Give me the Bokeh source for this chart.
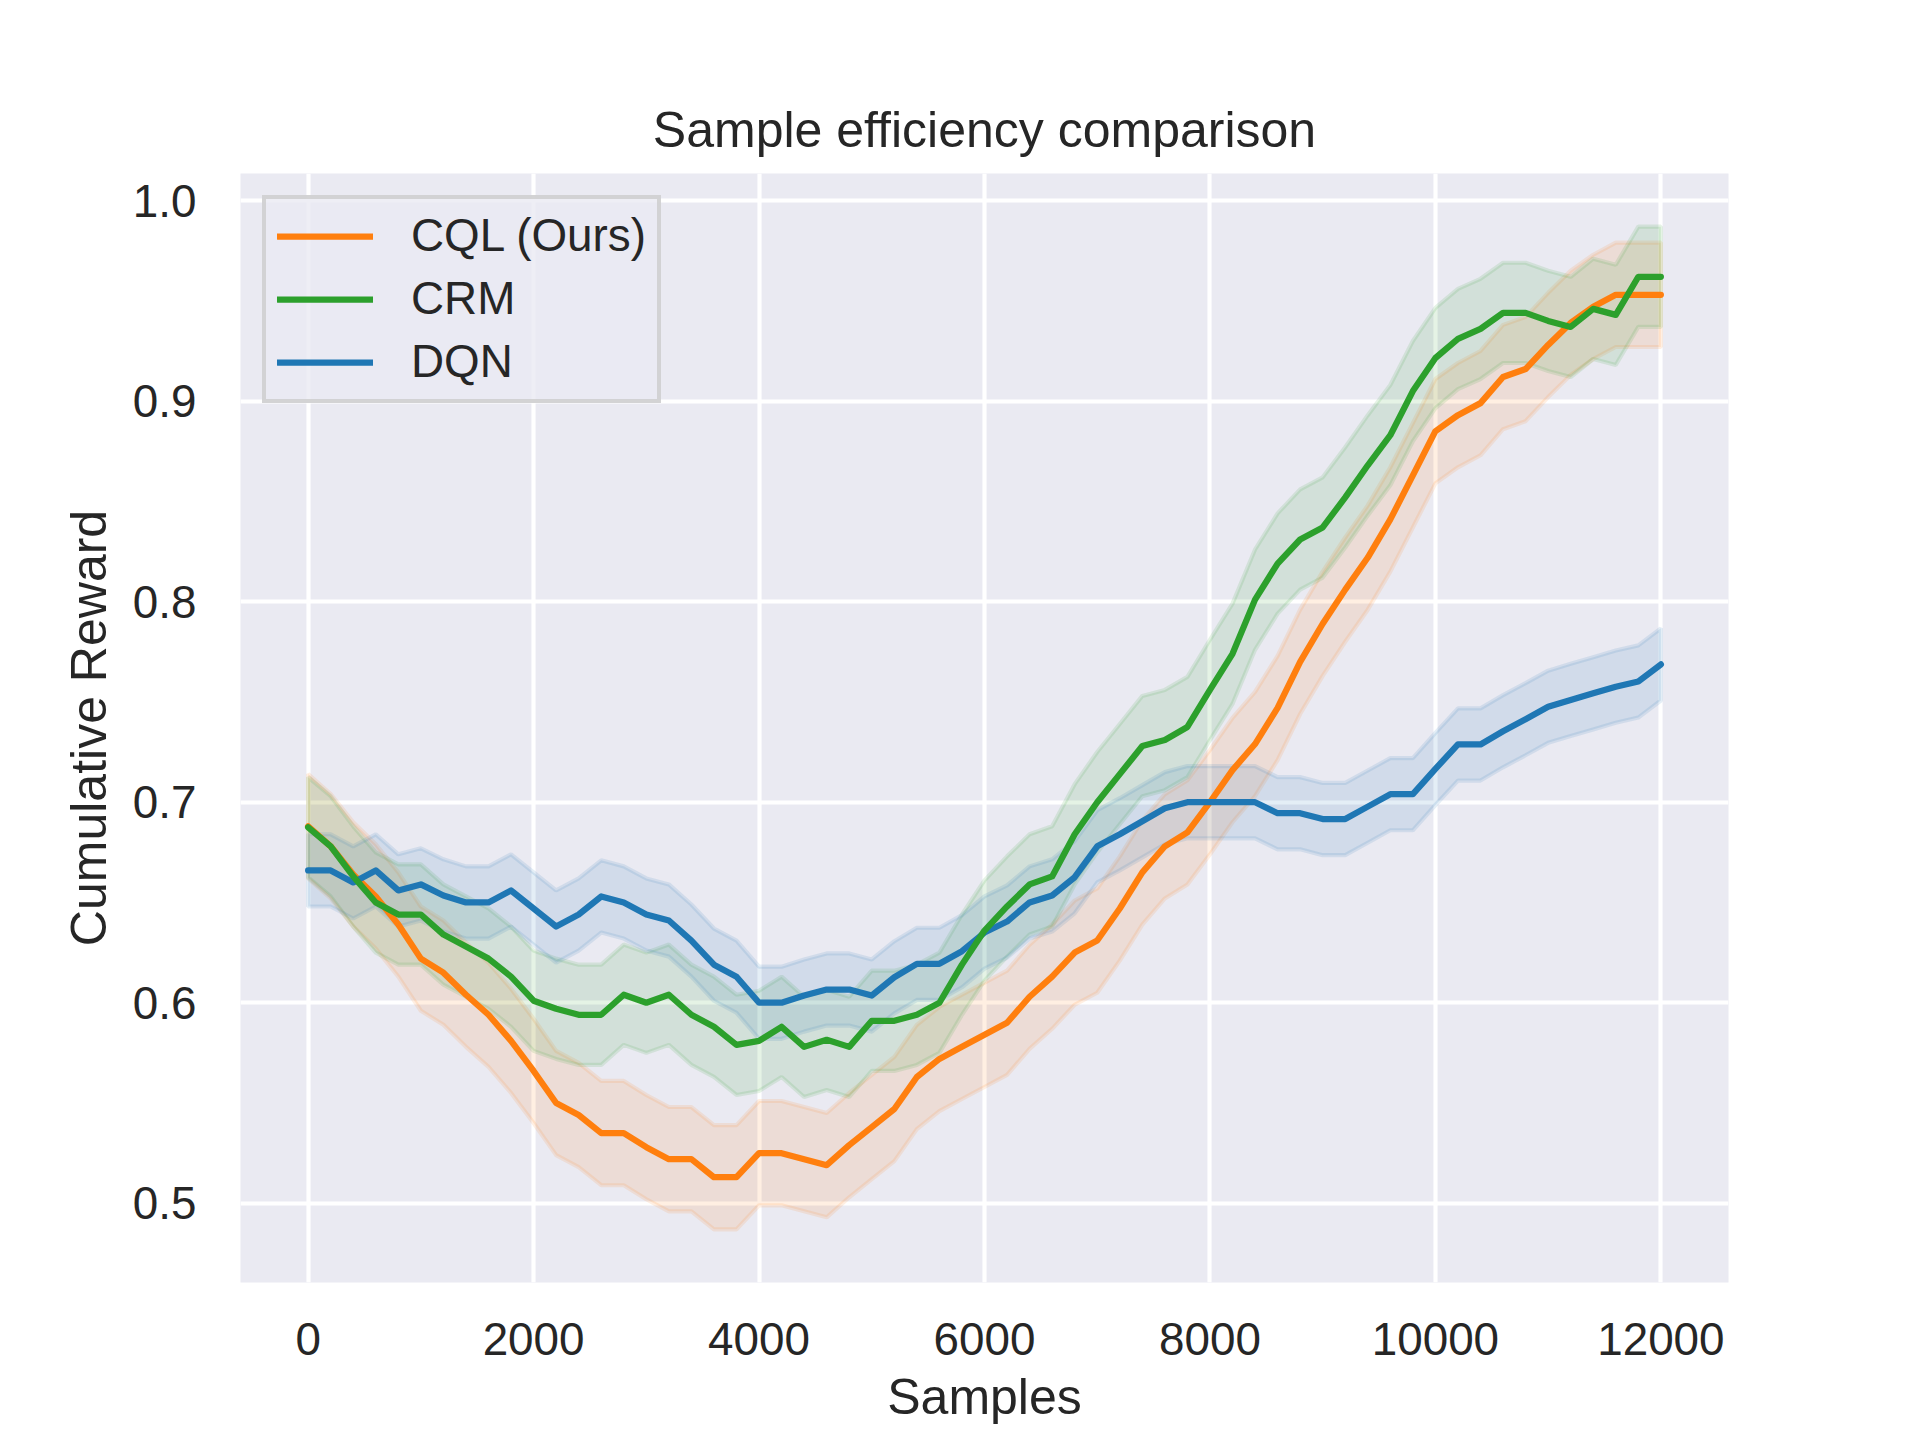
from bokeh.plotting import figure
from bokeh.models import FixedTicker, NumeralTickFormatter, Legend, LegendItem, Range1d
from bokeh.embed import file_html
from bokeh.resources import INLINE

# ---------------- data ----------------
samples = list(range(0, 12001, 200))

cql_mean = [0.688, 0.678, 0.664, 0.653, 0.639, 0.622, 0.615, 0.604, 0.594, 0.581,
            0.566, 0.550, 0.544, 0.535, 0.535, 0.528, 0.522, 0.522, 0.513, 0.513,
            0.525, 0.525, 0.522, 0.519, 0.529, 0.538, 0.547, 0.563, 0.572, 0.578,
            0.584, 0.590, 0.603, 0.613, 0.625, 0.631, 0.647, 0.665, 0.678, 0.685,
            0.700, 0.716, 0.729, 0.747, 0.770, 0.789, 0.806, 0.822, 0.841, 0.863,
            0.885, 0.893, 0.899, 0.912, 0.916, 0.928, 0.939, 0.947, 0.953, 0.953,
            0.953]
crm_mean = [0.6875, 0.678, 0.663, 0.650, 0.644, 0.644, 0.634, 0.628, 0.622, 0.613,
            0.601, 0.597, 0.594, 0.594, 0.604, 0.600, 0.604, 0.594, 0.588, 0.579,
            0.581, 0.588, 0.578, 0.5815, 0.578, 0.591, 0.591, 0.594, 0.600, 0.619,
            0.636, 0.648, 0.659, 0.663, 0.684, 0.700, 0.714, 0.728, 0.731, 0.7375,
            0.756, 0.774, 0.801, 0.819, 0.831, 0.837, 0.852, 0.868, 0.883, 0.905,
            0.9215, 0.931, 0.936, 0.944, 0.944, 0.940, 0.937, 0.946, 0.943, 0.962,
            0.962]
dqn_mean = [0.666, 0.666, 0.660, 0.666, 0.656, 0.659, 0.6535, 0.650, 0.650, 0.656,
            0.647, 0.638, 0.644, 0.653, 0.650, 0.644, 0.641, 0.631, 0.619, 0.613,
            0.600, 0.600, 0.6036, 0.6066, 0.6066, 0.6036, 0.6127, 0.6194, 0.6194, 0.6257,
            0.635, 0.6405, 0.650, 0.6535, 0.6626, 0.678, 0.684, 0.6905, 0.697, 0.700,
            0.700, 0.700, 0.700, 0.6945, 0.6945, 0.6916, 0.6916, 0.6978, 0.704, 0.704,
            0.7166, 0.7288, 0.7288, 0.7354, 0.7414, 0.7476, 0.751, 0.7543, 0.7576, 0.7602,
            0.7687]

# half-width of the shaded confidence bands
cql_ci = 0.026
crm_ci = 0.025
dqn_ci = 0.018

x_ticks = [0, 2000, 4000, 6000, 8000, 10000, 12000]
y_ticks = [0.5, 0.6, 0.7, 0.8, 0.9, 1.0]

series_names = ["CQL (Ours)", "CRM", "DQN"]
colors = {"CQL (Ours)": "#ff7f0e", "CRM": "#2ca02c", "DQN": "#1f77b4"}

FONT = "Liberation Sans"
TXT = "#262626"

p = figure(frame_width=1488, frame_height=1109,
           x_range=Range1d(-600, 12600), y_range=Range1d(0.4605, 1.0135),
           output_backend="svg", toolbar_location=None,
           min_border_left=240, min_border_right=184,
           min_border_top=173, min_border_bottom=150,
           background_fill_color="#eaeaf2", border_fill_color="white",
           outline_line_color=None)

p.title.text = "Sample efficiency comparison"
p.title.align = "center"
p.title.text_font = FONT
p.title.text_font_size = "50px"
p.title.text_font_style = "normal"
p.title.text_color = TXT
p.title.standoff = 32

for ax in (p.xaxis[0], p.yaxis[0]):
    ax.axis_line_color = None
    ax.major_tick_line_color = None
    ax.minor_tick_line_color = None
    ax.major_label_text_font = FONT
    ax.major_label_text_font_size = "45.8px"
    ax.major_label_text_color = TXT
    ax.axis_label_text_font = FONT
    ax.axis_label_text_font_size = "50px"
    ax.axis_label_text_font_style = "normal"
    ax.axis_label_text_color = TXT

p.xaxis.ticker = FixedTicker(ticks=x_ticks)
p.xaxis.formatter = NumeralTickFormatter(format="0")
p.xaxis.axis_label = "Samples"
p.xaxis.major_label_standoff = 34
p.xaxis.axis_label_standoff = 11

p.yaxis.ticker = FixedTicker(ticks=y_ticks)
p.yaxis.formatter = NumeralTickFormatter(format="0.0")
p.yaxis.axis_label = "Cumulative Reward"
p.yaxis.major_label_standoff = 38
p.yaxis.axis_label_standoff = 13

p.xgrid.grid_line_color = "white"
p.ygrid.grid_line_color = "white"
p.xgrid.grid_line_width = 4.17
p.ygrid.grid_line_width = 4.17

means = {"CQL (Ours)": cql_mean, "CRM": crm_mean, "DQN": dqn_mean}
cis = {"CQL (Ours)": cql_ci, "CRM": crm_ci, "DQN": dqn_ci}

# confidence bands
for name in series_names:
    m = means[name]
    h = cis[name]
    upper = [v + h for v in m]
    lower = [v - h for v in m]
    xs = samples + samples[::-1]
    ys = upper + lower[::-1]
    p.patch(xs, ys, fill_color=colors[name], fill_alpha=0.12,
            line_color=colors[name], line_alpha=0.12, line_width=4.17)

# mean lines (CQL at the bottom, then DQN, CRM on top)
renderers = {}
for name in ["CQL (Ours)", "DQN", "CRM"]:
    renderers[name] = p.line(samples, means[name], line_color=colors[name],
                             line_width=6.25, line_cap="round", line_join="round")

legend = Legend(items=[LegendItem(label=n, renderers=[renderers[n]]) for n in series_names],
                location="top_left", margin=22, padding=11, spacing=11,
                glyph_width=96, glyph_height=46, label_height=46, label_standoff=38,
                label_text_font=FONT, label_text_font_size="45.8px", label_text_color=TXT,
                border_line_color="#cccccc", border_line_width=4, border_line_alpha=0.8,
                background_fill_color="#eaeaf2", background_fill_alpha=0.8)
p.add_layout(legend)

open("out.html", "w").write(file_html(p, INLINE))
